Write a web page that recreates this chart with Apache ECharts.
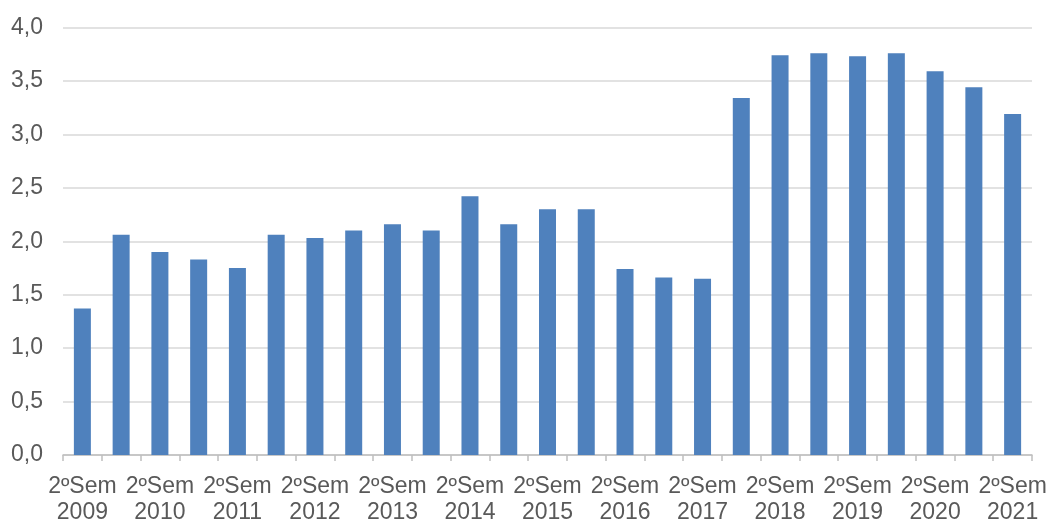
<!DOCTYPE html>
<html>
<head>
<meta charset="utf-8">
<script src="https://cdn.jsdelivr.net/npm/echarts@6/dist/echarts.min.js"></script>
<style>html,body{margin:0;padding:0;background:#fff;}#c{width:1048px;height:523px;}</style>
</head>
<body>
<div id="c"></div>
<script>
const categories = [
  "2ºSem\n2009","1ºSem\n2010","2ºSem\n2010","1ºSem\n2011","2ºSem\n2011","1ºSem\n2012","2ºSem\n2012",
  "1ºSem\n2013","2ºSem\n2013","1ºSem\n2014","2ºSem\n2014","1ºSem\n2015","2ºSem\n2015","1ºSem\n2016",
  "2ºSem\n2016","1ºSem\n2017","2ºSem\n2017","1ºSem\n2018","2ºSem\n2018","1ºSem\n2019","2ºSem\n2019",
  "1ºSem\n2020","2ºSem\n2020","1ºSem\n2021","2ºSem\n2021"
];
const values = [
  1.37, 2.06, 1.90, 1.83, 1.75, 2.06, 2.03,
  2.10, 2.16, 2.10, 2.42, 2.16, 2.30, 2.30,
  1.74, 1.66, 1.65, 3.34, 3.74, 3.76, 3.73,
  3.76, 3.59, 3.44, 3.19
];
const yMin = 0, yMax = 4, yStep = 0.5;

const chart = echarts.init(document.getElementById('c'), null, {renderer: 'canvas'});
chart.setOption({
  animation: false,
  backgroundColor: '#ffffff',
  grid: {left: 63, right: 16, top: 27.5, bottom: 68, containLabel: false, outerBoundsMode: 'none'},
  xAxis: {
    type: 'category',
    data: categories,
    boundaryGap: true,
    axisLine: {show: true, lineStyle: {color: '#bfbfbf', width: 1.5}},
    axisTick: {show: true, interval: 0, length: 6, alignWithLabel: false, lineStyle: {color: '#bfbfbf', width: 1.5}},
    axisLabel: {
      interval: 1,
      color: '#595959',
      fontFamily: 'Liberation Sans, Arial, sans-serif',
      fontSize: 23,
      lineHeight: 26,
      margin: 19,
      hideOverlap: false
    }
  },
  yAxis: {
    type: 'value',
    min: yMin, max: yMax, interval: yStep,
    axisLine: {show: false},
    axisTick: {show: false},
    splitLine: {show: true, lineStyle: {color: '#d9d9d9', width: 1.5}},
    axisLabel: {
      color: '#595959',
      fontFamily: 'Liberation Sans, Arial, sans-serif',
      fontSize: 23,
      margin: 20,
      formatter: v => v.toFixed(1).replace('.', ',')
    }
  },
  series: [{
    type: 'bar',
    data: values,
    barWidth: 17,
    itemStyle: {color: '#4f81bd'}
  }]
});
</script>
</body>
</html>
